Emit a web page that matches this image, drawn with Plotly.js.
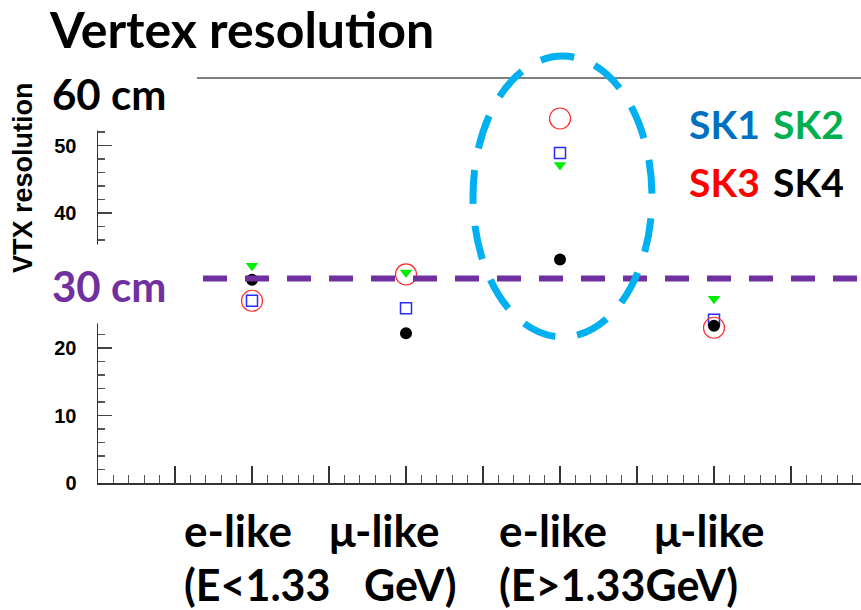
<!DOCTYPE html>
<html>
<head>
<meta charset="utf-8">
<script src="https://cdn.plot.ly/plotly-3.0.1.min.js"></script>
<style>
html, body { margin: 0; padding: 0; background: #ffffff; }
#chart { width: 861px; height: 610px; }
</style>
</head>
<body>
<div id="chart"></div>
<script>
// ---- data ----
const categories = ['e-like (E<1.33 GeV)', 'μ-like (E<1.33 GeV)', 'e-like (E>1.33 GeV)', 'μ-like (E>1.33 GeV)'];
const xPositions = [1, 2, 3, 4];
const sk1 = [27.0, 25.9, 48.9, 24.2];
const sk2 = [32.2, 31.2, 47.1, 27.3];
const sk3 = [27.0, 30.9, 54.0, 23.0];
const sk4 = [30.1, 22.2, 33.1, 23.3];
const yTickVals = [0, 10, 20, 40, 50];
const yTickText = ['0', '10', '20', '40', '50'];
const refLine30 = 30.3;

// ---- geometry helpers (pixel -> paper) ----
const PL = 98, PT = 78, PW = 763, PH = 405;
const fx = px => (px - PL) / PW;
const fy = py => (PT + PH - py) / PH;

const lato = 'Lato, "Open Sans", sans-serif';
const arialB = '"Liberation Sans", Arial, sans-serif';

function trace(name, y, marker) {
  return { type: 'scatter', mode: 'markers', name: name, x: xPositions, y: y,
           text: categories, marker: marker, hoverinfo: 'skip' };
}

const data = [
  trace('SK1', sk1, { symbol: 'square-open', size: 11, color: '#2b2bff', line: { width: 1.5, color: '#2b2bff' } }),
  trace('SK3', sk3, { symbol: 'circle-open', size: 21, color: '#ff2a2a', line: { width: 1.2, color: '#ff2a2a' } }),
  trace('SK2', sk2, { symbol: 'triangle-down', size: 11, color: '#00ee00', line: { width: 0 } }),
  trace('SK4', sk4, { symbol: 'circle', size: 12, color: '#000000', line: { width: 0 } })
];

function ann(text, px, py, size, color, extra) {
  return Object.assign({
    text: text, xref: 'paper', yref: 'paper', x: fx(px), y: fy(py),
    xanchor: 'left', yanchor: 'middle', showarrow: false,
    font: { family: lato, size: size, color: color, weight: 'bold' }
  }, extra || {});
}

const annotations = [
  ann('60 cm', 50, 94, 42, '#000000'),
  ann('30 cm', 50, 286, 42, '#7030A0'),
  ann('SK1', 687, 123.5, 39, '#0070C0'),
  ann('SK2', 771, 123.5, 39, '#00B050'),
  ann('SK3', 687, 181.5, 39, '#FF0000'),
  ann('SK4', 771, 181.5, 39, '#000000'),
  ann('e-like', 182, 530, 44, '#000000'),
  ann('μ-like', 327, 530, 44, '#000000'),
  ann('e-like', 497, 530, 44, '#000000'),
  ann('μ-like', 652, 530, 44, '#000000'),
  ann('(E&lt;1.33', 182, 584, 43, '#000000'),
  ann('GeV)', 362, 584, 43, '#000000'),
  ann('(E&gt;1.33GeV)', 497, 584, 43, '#000000'),
  {
    text: 'VTX resolution', xref: 'paper', yref: 'paper', x: fx(23), y: fy(178),
    xanchor: 'center', yanchor: 'middle', textangle: -90, showarrow: false,
    font: { family: arialB, size: 27, color: '#000000', weight: 'bold' }
  }
];

const shapes = [
  // white boxes of the slide text covering the axis
  { type: 'rect', layer: 'above', xref: 'paper', yref: 'paper',
    x0: fx(0), x1: fx(198), y0: fy(130.5), y1: fy(62), fillcolor: '#ffffff', line: { width: 0 } },
  { type: 'rect', layer: 'above', xref: 'paper', yref: 'paper',
    x0: fx(0), x1: fx(199), y0: fy(323.5), y1: fy(244.5), fillcolor: '#ffffff', line: { width: 0 } },
  // thin top frame line
  { type: 'line', layer: 'above', xref: 'paper', yref: 'paper',
    x0: fx(197), x1: 1, y0: 1, y1: 1, line: { color: '#555555', width: 1.3 } },
  // 30 cm reference line
  { type: 'line', layer: 'above', xref: 'paper', yref: 'y',
    x0: fx(203), x1: 1, y0: refLine30, y1: refLine30,
    line: { color: '#7030A0', width: 6, dash: '24px,18px' } },
  // highlight ellipse
  { type: 'circle', layer: 'above', xref: 'paper', yref: 'paper',
    x0: fx(473), x1: fx(652), y0: fy(337), y1: fy(56),
    line: { color: '#00B0F0', width: 7, dash: '0px,22px,34px,0px' } }
];

const layout = {
  width: 861, height: 610,
  margin: { l: PL, r: 0, t: PT, b: 610 - PT - PH, pad: 0 },
  paper_bgcolor: '#ffffff', plot_bgcolor: '#ffffff',
  showlegend: false, hovermode: false,
  title: {
    text: 'Vertex resolution', xref: 'container', x: 50 / 861, xanchor: 'left',
    yref: 'container', y: 1 - 30 / 610, yanchor: 'middle', pad: { l: 0, r: 0, t: 0, b: 0 },
    font: { family: lato, size: 50, color: '#000000', weight: 'bold' }
  },
  xaxis: {
    range: [0, PW / 154], showgrid: false, zeroline: false,
    showline: true, linecolor: '#333333', linewidth: 2,
    ticks: 'inside', tickmode: 'linear', tick0: 0, dtick: 0.5, ticklen: 17,
    tickwidth: 1.5, tickcolor: '#333333', showticklabels: false,
    minor: { ticks: 'inside', tickmode: 'linear', tick0: 0, dtick: 0.1, ticklen: 8, tickwidth: 1.3, tickcolor: '#555555', showgrid: false }
  },
  yaxis: {
    range: [0, 60], showgrid: false, zeroline: false,
    showline: true, linecolor: '#333333', linewidth: 1.5,
    ticks: 'inside', tickmode: 'array', tickvals: yTickVals, ticktext: yTickText,
    ticklen: 14, tickwidth: 1.5, tickcolor: '#444444',
    ticklabelstandoff: 16,
    tickfont: { family: arialB, size: 20, color: '#000000', weight: 'bold' },
    minor: { ticks: 'inside', tickmode: 'linear', tick0: 0, dtick: 2, ticklen: 7, tickwidth: 1.3, tickcolor: '#555555', showgrid: false }
  },
  annotations: annotations,
  shapes: shapes
};

Plotly.newPlot('chart', data, layout, { staticPlot: true, displayModeBar: false });
</script>
</body>
</html>
